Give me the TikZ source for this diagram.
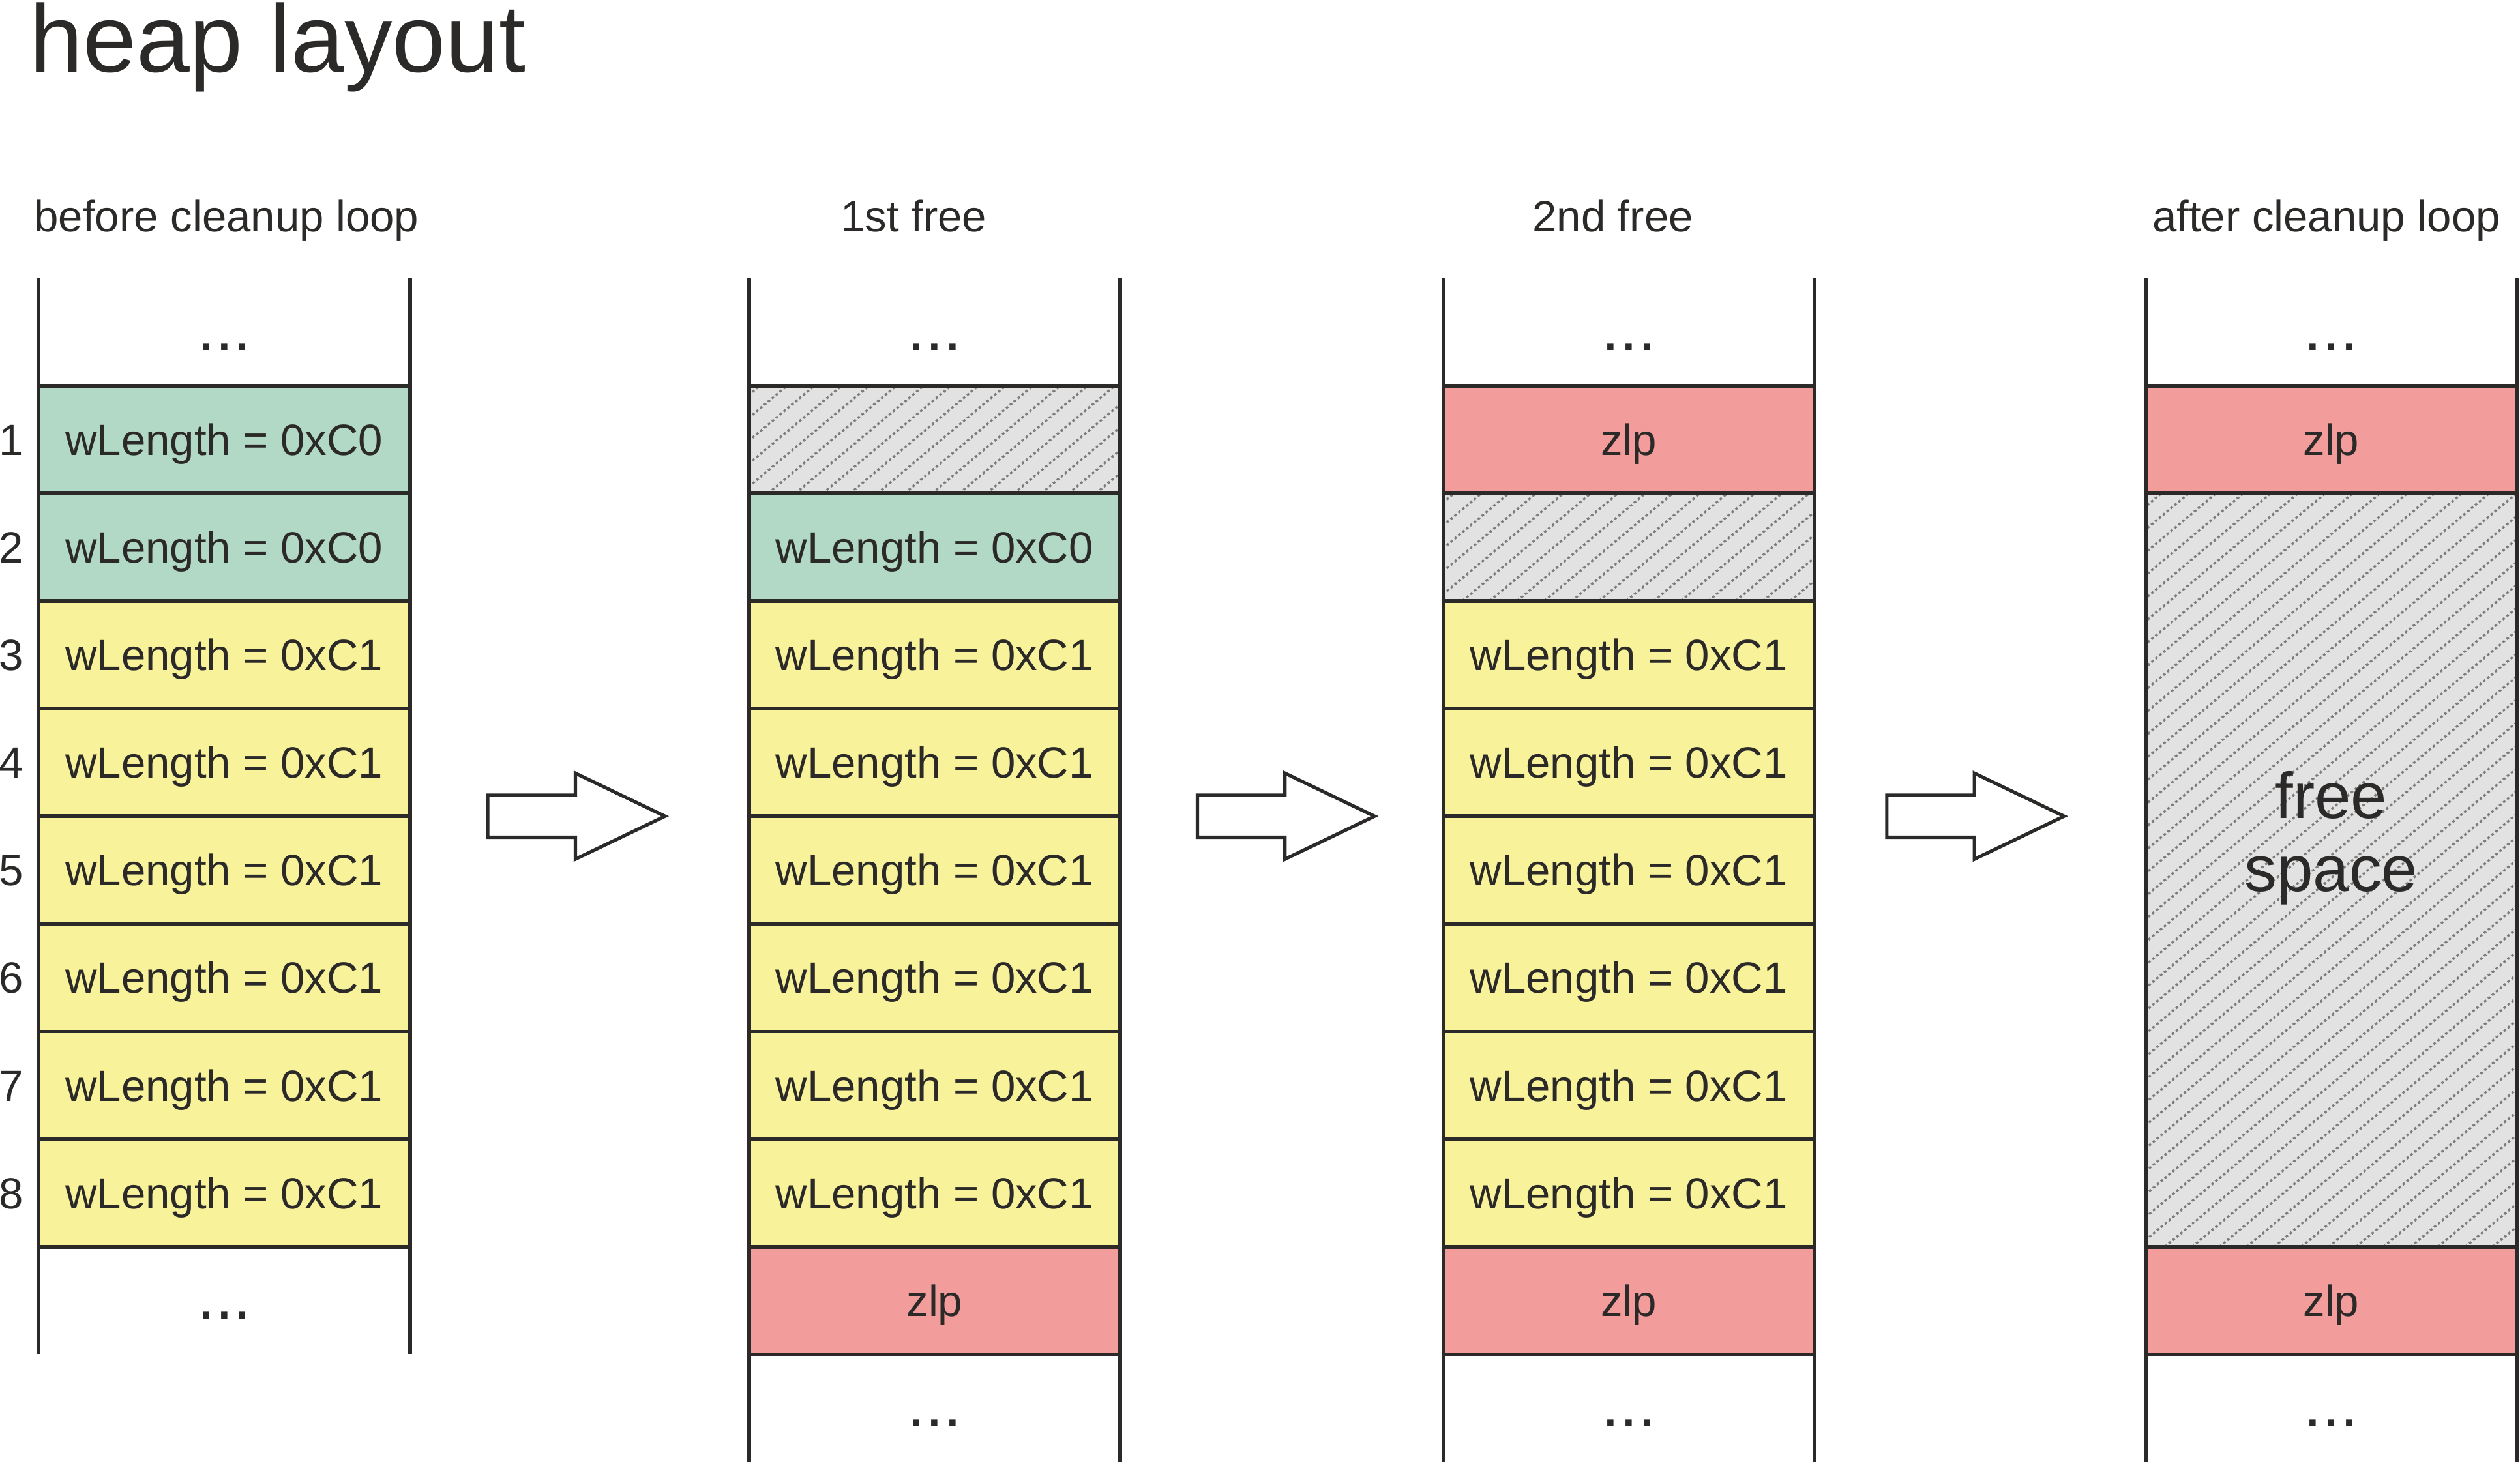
\documentclass[tikz,border=0pt]{standalone}
\usepackage{fontspec}
\setmainfont{Liberation Sans}
\usetikzlibrary{positioning}
\definecolor{linec}{RGB}{43,42,41}
\definecolor{usedc}{RGB}{178,216,198}
\definecolor{bigc}{RGB}{248,242,154}
\definecolor{zlpc}{RGB}{242,157,155}
\definecolor{freec}{RGB}{227,226,227}
\definecolor{hatchc}{RGB}{125,125,125}

\tikzset{
  slot/.style={minimum width=4.62cm, minimum height=1.34cm, inner sep=0pt, outer sep=0pt,
    text height=11.1pt, text depth=0pt, font=\fontsize{15.5}{18}\selectfont, text=linec},
  gap/.style={slot, text height=13pt, font=\fontsize{23}{26}\selectfont},
  cell/.style={slot, draw=linec, line width=1.37pt},
  wlen0/.style={cell, fill=usedc},
  wlen1/.style={cell, fill=bigc},
  zlp/.style={cell, fill=zlpc},
  freed/.style={cell, fill=freec, path picture={
      \foreach \k in {0,...,50}
        \draw[hatchc, line width=0.8pt, dash pattern=on 0.9pt off 0.9pt]
          ([xshift={\k*0.34cm-12cm}]path picture bounding box.south west) -- ++(40:16cm);}},
  wall/.style={draw=linec, line width=1.37pt},
  num/.style={inner sep=0pt, text height=11.1pt, text depth=0pt,
    font=\fontsize{15.5}{18}\selectfont, text=linec},
  head/.style={num},
  bigtext/.style={inner sep=0pt, align=center, font=\fontsize{23}{25.9}\selectfont, text=linec},
  fatarrow/.pic={
    \draw[linec, line width=1.2pt, fill=white] (0,0.262) -- (1.09,0.262) -- (1.09,0.535)
      -- (2.206,0) -- (1.09,-0.535) -- (1.09,-0.262) -- (0,-0.262) -- cycle;}
}

\begin{document}
\begin{tikzpicture}[node distance=0pt]
  \useasboundingbox (0,0) rectangle (31.36,-18.22);
  \node[anchor=base west, inner sep=0pt, font=\fontsize{34}{40}\selectfont, text=linec]
    (title) at (0.36,-0.9) {heap layout};

  % before cleanup loop
  \node[gap] (a0) at (2.79,-4.13) {...};
  \node[wlen0, below=of a0] (a1) {wLength = 0xC0};
  \node[wlen0, below=of a1] (a2) {wLength = 0xC0};
  \foreach \i [count=\j from 2] in {3,...,8}
    \node[wlen1, below=of a\j] (a\i) {wLength = 0xC1};
  \node[gap, below=of a8] (a9) {...};
  \foreach \i in {1,...,8}
    \node[num, left=0.18cm of a\i] (n\i) {\i};
  \draw[wall] (a0.north west) -- (a9.south west) (a0.north east) -- (a9.south east);
  \node[head, above=0.572cm of a0, xshift=0.03cm] (ha) {before cleanup loop};

  % 1st free
  \node[gap] (b0) at (11.63,-4.13) {...};
  \node[freed, below=of b0] (b1) {};
  \node[wlen0, below=of b1] (b2) {wLength = 0xC0};
  \foreach \i [count=\j from 2] in {3,...,8}
    \node[wlen1, below=of b\j] (b\i) {wLength = 0xC1};
  \node[zlp, below=of b8] (b9) {zlp};
  \node[gap, below=of b9] (b10) {...};
  \draw[wall] (b0.north west) -- (b10.south west) (b0.north east) -- (b10.south east);
  \node[head, above=0.572cm of b0, xshift=-0.26cm] (hb) {1st free};

  % 2nd free
  \node[gap] (c0) at (20.27,-4.13) {...};
  \node[zlp, below=of c0] (c1) {zlp};
  \node[freed, below=of c1] (c2) {};
  \foreach \i [count=\j from 2] in {3,...,8}
    \node[wlen1, below=of c\j] (c\i) {wLength = 0xC1};
  \node[zlp, below=of c8] (c9) {zlp};
  \node[gap, below=of c9] (c10) {...};
  \draw[wall] (c0.north west) -- (c10.south west) (c0.north east) -- (c10.south east);
  \node[head, above=0.572cm of c0, xshift=-0.2cm] (hc) {2nd free};

  % after cleanup loop
  \node[gap] (d0) at (29.01,-4.13) {...};
  \node[zlp, below=of d0] (d1) {zlp};
  \node[freed, below=of d1, minimum height=9.38cm] (d2) {};
  \node[bigtext] (fs) at ([yshift=0.4cm]d2.center) {free\\space};
  \node[zlp, below=of d2] (d9) {zlp};
  \node[gap, below=of d9] (d10) {...};
  \draw[wall] (d0.north west) -- (d10.south west) (d0.north east) -- (d10.south east);
  \node[head, above=0.572cm of d0, xshift=-0.06cm] (hd) {after cleanup loop};

  % steps
  \pic at ([xshift=0.97cm]a4.south east) {fatarrow};
  \pic at ([xshift=0.96cm]b4.south east) {fatarrow};
  \pic at ([xshift=0.9cm]c4.south east) {fatarrow};
\end{tikzpicture}
\end{document}
